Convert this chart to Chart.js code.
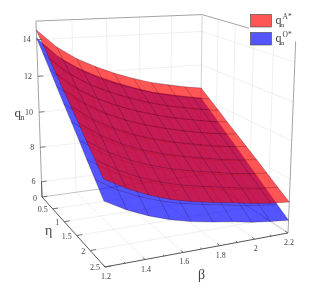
<!DOCTYPE html>
<html>
<head>
<meta charset="utf-8">
<style>
html, body { margin: 0; padding: 0; background: #fff; }
#chart { position: absolute; left: 0; top: 0; filter: blur(0.3px); }
</style>
<script src="https://cdn.jsdelivr.net/npm/chart.js@4/dist/chart.umd.min.js"></script>
</head>
<body>
<canvas id="chart" width="312" height="298"></canvas>
<script>
// Data
const betaValues = [1.2, 1.31, 1.42, 1.53, 1.64, 1.76, 1.87, 1.98, 2.09, 2.2];
const etaValues = [0, 0.28, 0.56, 0.83, 1.11, 1.39, 1.67, 1.94, 2.22, 2.5];

// one row per beta, one column per eta
const qAValues = [
    [14.52, 13.94, 13.37, 12.79, 12.21, 11.64, 11.06, 10.48, 9.91, 9.33],
    [13.55, 13.01, 12.48, 11.94, 11.41, 10.87, 10.34, 9.80, 9.27, 8.73],
    [12.85, 12.34, 11.83, 11.32, 10.81, 10.31, 9.79, 9.28, 8.77, 8.26],
    [12.32, 11.83, 11.34, 10.84, 10.35, 9.86, 9.37, 8.88, 8.38, 7.89],
    [11.88, 11.41, 10.93, 10.46, 9.99, 9.51, 9.04, 8.57, 8.09, 7.62],
    [11.48, 11.03, 10.57, 10.12, 9.67, 9.21, 8.76, 8.31, 7.85, 7.40],
    [11.17, 10.73, 10.29, 9.85, 9.41, 8.98, 8.54, 8.10, 7.66, 7.22],
    [10.95, 10.51, 10.08, 9.64, 9.20, 8.77, 8.33, 7.89, 7.46, 7.02],
    [10.74, 10.31, 9.88, 9.45, 9.02, 8.60, 8.17, 7.74, 7.31, 6.88],
    [10.58, 10.16, 9.74, 9.31, 8.89, 8.47, 8.05, 7.63, 7.20, 6.78]
];
const qOValues = [
    [14.09, 13.45, 12.80, 12.16, 11.51, 10.87, 10.23, 9.58, 8.94, 8.29],
    [13.05, 12.46, 11.86, 11.27, 10.67, 10.08, 9.48, 8.89, 8.29, 7.70],
    [12.35, 11.78, 11.21, 10.65, 10.08, 9.51, 8.94, 8.37, 7.81, 7.24],
    [11.82, 11.27, 10.72, 10.17, 9.62, 9.08, 8.53, 7.98, 7.43, 6.88],
    [11.37, 10.84, 10.31, 9.78, 9.25, 8.73, 8.20, 7.67, 7.14, 6.61],
    [10.95, 10.44, 9.94, 9.43, 8.93, 8.42, 7.92, 7.41, 6.91, 6.40],
    [10.62, 10.13, 9.65, 9.16, 8.67, 8.19, 7.70, 7.21, 6.73, 6.24],
    [10.38, 9.90, 9.42, 8.93, 8.45, 7.97, 7.49, 7.01, 6.52, 6.04],
    [10.17, 9.70, 9.22, 8.75, 8.27, 7.80, 7.33, 6.85, 6.38, 5.90],
    [9.97, 9.51, 9.04, 8.58, 8.12, 7.65, 7.19, 6.73, 6.26, 5.80]
];

const betaTicks = [1.2, 1.4, 1.6, 1.8, 2, 2.2];
const betaMinorTicks = [1.3, 1.5, 1.7, 1.9, 2.1];
const etaTicks = [0, 0.5, 1, 1.5, 2, 2.5];
const qTicks = [6, 8, 10, 12, 14];

const BETA_RANGE = [1.2, 2.2];
const ETA_RANGE = [0, 2.5];
const Q_RANGE = [5.1, 15];

// Colores
const RED_FILL = 'rgba(255, 0, 0, 0.667)';
const BLUE_FILL = 'rgba(0, 0, 255, 0.667)';
const MESH_COLOR = 'rgba(30, 0, 30, 0.38)';
const WALL_COLOR = '#ebebeb';
const BOX_COLOR = '#9a9a9a';
const AXIS_COLOR = '#555';
const TEXT_COLOR = '#444';
const SERIF = '"Liberation Serif", serif';

// Perspective camera, takes normalized box coordinates
const CAM = {
    x0: 42, xu: 177.8, xv: 43.66, xw: -7.8,
    y0: 197, yu: -4.7, yv: 20.8, yw: -177,
    du: 0.0989, dv: -0.1842, dw: -0.05
};

function norm(value, range) {
    return (value - range[0]) / (range[1] - range[0]);
}

function project(beta, eta, q) {
    const u = norm(beta, BETA_RANGE);
    const v = norm(eta, ETA_RANGE);
    const w = norm(q, Q_RANGE);
    const d = 1 + CAM.du * u + CAM.dv * v + CAM.dw * w;
    return {
        x: (CAM.x0 + CAM.xu * u + CAM.xv * v + CAM.xw * w) / d,
        y: (CAM.y0 + CAM.yu * u + CAM.yv * v + CAM.yw * w) / d
    };
}

// Datasets are pushed in painting order
const datasets = [];

function addLine(points, color, width) {
    datasets.push({
        data: points.map(p => project(p[0], p[1], p[2])),
        showLine: true,
        fill: false,
        borderColor: color,
        borderWidth: width,
        pointRadius: 0
    });
}

function addSurface(values, fillColor) {
    const lastB = betaValues.length - 1;
    const lastE = etaValues.length - 1;
    const outline = [];
    betaValues.forEach((b, i) => outline.push([b, etaValues[0], values[i][0]]));
    etaValues.forEach((e, j) => outline.push([betaValues[lastB], e, values[lastB][j]]));
    betaValues.slice().reverse().forEach((b, i) => outline.push([b, etaValues[lastE], values[lastB - i][lastE]]));
    etaValues.slice().reverse().forEach((e, j) => outline.push([betaValues[0], e, values[0][lastE - j]]));
    datasets.push({
        data: outline.map(p => project(p[0], p[1], p[2])),
        showLine: true,
        fill: 'shape',
        backgroundColor: fillColor,
        borderWidth: 0,
        pointRadius: 0
    });
    betaValues.forEach((b, i) => addLine(etaValues.map((e, j) => [b, e, values[i][j]]), MESH_COLOR, 0.7));
    etaValues.forEach((e, j) => addLine(betaValues.map((b, i) => [b, e, values[i][j]]), MESH_COLOR, 0.7));
}

const [bMin, bMax] = BETA_RANGE;
const [eMin, eMax] = ETA_RANGE;
const [qMin, qMax] = Q_RANGE;

// Walls and floor grid
qTicks.forEach(q => {
    addLine([[bMin, eMin, q], [bMax, eMin, q], [bMax, eMax, q]], WALL_COLOR, 0.8);
});
betaTicks.slice(1, -1).forEach(b => {
    addLine([[b, eMax, qMin], [b, eMin, qMin], [b, eMin, qMax]], WALL_COLOR, 0.8);
});
etaTicks.slice(1, -1).forEach(e => {
    addLine([[bMin, e, qMin], [bMax, e, qMin], [bMax, e, qMax]], WALL_COLOR, 0.8);
});

// Box edges
addLine([[bMin, eMin, qMin], [bMin, eMin, qMax], [bMax, eMin, qMax], [bMax, eMax, qMax], [bMax, eMax, qMin]], BOX_COLOR, 0.9);
addLine([[bMax, eMin, qMax], [bMax, eMin, qMin]], '#c4c4c4', 0.8);
addLine([[bMin, eMin, qMin], [bMax, eMin, qMin], [bMax, eMax, qMin]], '#b4b4b4', 0.8);

// Surfaces, blue first so that red blends over it
addSurface(qOValues, BLUE_FILL);
addSurface(qAValues, RED_FILL);

// Front axes and tick marks
addLine([[bMin, eMin, qMin], [bMin, eMax, qMin], [bMax, eMax, qMin]], AXIS_COLOR, 1);
addLine([[bMin, eMin, qMin], [bMin, eMin, 6]], AXIS_COLOR, 1);
betaTicks.forEach(b => addLine([[b, eMax, qMin], [b, eMax - 0.07, qMin]], AXIS_COLOR, 0.8));
betaMinorTicks.forEach(b => addLine([[b, eMax, qMin], [b, eMax - 0.04, qMin]], AXIS_COLOR, 0.8));
etaTicks.forEach(e => addLine([[bMin, e, qMin], [bMin + 0.03, e, qMin]], AXIS_COLOR, 0.8));
qTicks.forEach(q => addLine([[bMin, eMin, q], [bMin + 0.03, eMin, q]], AXIS_COLOR, 0.8));

datasets.forEach((ds, i) => { ds.order = datasets.length - i; });

function drawText(ctx, text, x, y, size, align) {
    ctx.font = size + 'px ' + SERIF;
    ctx.textAlign = align || 'left';
    ctx.textBaseline = 'alphabetic';
    ctx.fillStyle = TEXT_COLOR;
    ctx.fillText(text, x, y);
}

function drawLegendEntry(ctx, y, color, superscript) {
    ctx.fillStyle = color;
    ctx.fillRect(250.5, y, 21, 12.5);
    ctx.strokeStyle = '#444';
    ctx.lineWidth = 0.6;
    ctx.strokeRect(250.5, y, 21, 12.5);
    drawText(ctx, 'q', 275.5, y + 9.5, 12);
    drawText(ctx, 'n', 281, y + 12.5, 7);
    drawText(ctx, superscript, 282.5, y + 4, 7.5);
}

// Tick labels, axis titles and the legend
const labelsPlugin = {
    id: 'labels',
    afterDatasetsDraw(chart) {
        const ctx = chart.ctx;
        ctx.save();
        qTicks.forEach(q => {
            const p = project(bMin, eMin, q);
            drawText(ctx, String(q), p.x - 6, p.y + 2.5, 8, 'right');
        });
        etaTicks.forEach(e => {
            const p = project(bMin, e, qMin);
            drawText(ctx, String(e), p.x - 5, p.y + 3.5, 8, 'right');
        });
        betaTicks.forEach(b => {
            const p = project(b, eMax, qMin);
            drawText(ctx, String(b), p.x + 1, p.y + 12, 8, 'center');
        });

        drawText(ctx, 'q', 14.5, 117, 13);
        drawText(ctx, 'n', 20.5, 119.5, 8);
        drawText(ctx, 'η', 45, 235, 14);
        drawText(ctx, 'β', 198, 279, 14);

        ctx.fillStyle = '#fff';
        ctx.fillRect(249, 12, 46, 35);
        drawLegendEntry(ctx, 14.5, 'rgb(255, 85, 85)', 'A*');
        drawLegendEntry(ctx, 32.5, 'rgb(85, 85, 255)', 'O*');
        ctx.restore();
    }
};

new Chart(document.getElementById('chart'), {
    type: 'scatter',
    data: { datasets },
    options: {
        responsive: false,
        animation: false,
        layout: { padding: 0 },
        events: [],
        plugins: { legend: { display: false }, tooltip: { enabled: false } },
        scales: {
            x: { type: 'linear', min: 0, max: 312, display: false },
            y: { type: 'linear', min: 0, max: 298, reverse: true, display: false }
        }
    },
    plugins: [labelsPlugin]
});
</script>
</body>
</html>
